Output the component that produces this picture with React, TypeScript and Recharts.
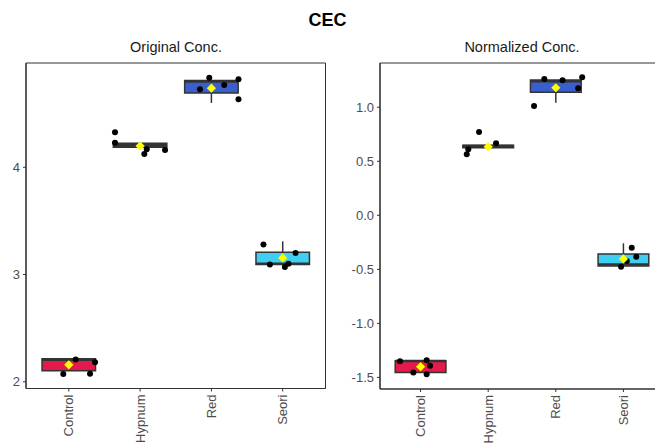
import React from 'react';
import {
  ComposedChart,
  Scatter,
  XAxis,
  YAxis,
  ReferenceArea,
  ReferenceLine,
} from 'recharts';

const CATEGORIES = ['Control', 'Hypnum', 'Red', 'Seori'];
const POSITIONS = [1, 2, 3, 4];
const FILLS = ['#E5194B', '#3d3d3d', '#3A5FCD', '#3ECFF3'];
const BOX_HALF = 0.375;

// Original Conc. box stats
const ORIG_LOWER = [2.102, 4.186, 4.6, 3.093];
const ORIG_Q1 = [2.102, 4.186, 4.693, 3.093];
const ORIG_MEDIAN = [2.205, 4.21, 4.8, 3.1];
const ORIG_Q3 = [2.214, 4.224, 4.81, 3.208];
const ORIG_UPPER = [2.214, 4.224, 4.81, 3.31];
const ORIG_MEAN = [2.158, 4.199, 4.737, 3.155];
// jittered samples
const ORIG_PT_X = [1.097, 1.368, 0.923, 1.298, 1.648, 1.648, 2.093, 2.059, 2.35, 2.97, 3.38, 2.84, 3.18, 3.38, 3.73, 4.18, 3.82, 4.03, 4.08];
const ORIG_PT_Y = [2.207, 2.183, 2.072, 2.074, 4.326, 4.229, 4.168, 4.124, 4.161, 4.835, 4.82, 4.727, 4.767, 4.634, 3.28, 3.2, 3.093, 3.07, 3.1];
const ORIG_TICKS = [2, 3, 4];

// Normalized Conc. box stats
const NORM_LOWER = [-1.455, 0.625, 1.042, -0.469];
const NORM_Q1 = [-1.455, 0.625, 1.138, -0.469];
const NORM_MEDIAN = [-1.348, 0.64, 1.24, -0.455];
const NORM_Q3 = [-1.345, 0.648, 1.252, -0.358];
const NORM_UPPER = [-1.345, 0.648, 1.252, -0.259];
const NORM_MEAN = [-1.4, 0.635, 1.18, -0.404];
const NORM_PT_X = [0.696, 1.09, 1.14, 0.893, 1.09, 1.683, 1.706, 1.865, 2.116, 2.678, 2.83, 3.1, 3.39, 3.33, 4.123, 4.19, 4.05, 3.965];
const NORM_PT_Y = [-1.35, -1.34, -1.392, -1.455, -1.47, 0.564, 0.611, 0.771, 0.666, 1.011, 1.261, 1.249, 1.277, 1.175, -0.3, -0.383, -0.423, -0.475];
const NORM_TICKS = [-1.5, -1, -0.5, 0, 0.5, 1];

const INK = '#333333';
const TICK_TEXT = '#4D4D4D';

function CategoryTick({ x, y, payload }: any) {
  return (
    <text
      transform={`translate(${x},${y}) rotate(-90)`}
      textAnchor="end"
      dy="0.35em"
      fontSize={13}
      fill={TICK_TEXT}
    >
      {CATEGORIES[payload.value - 1]}
    </text>
  );
}

function Dot({ cx, cy }: any) {
  return <circle cx={cx} cy={cy} r={3} fill="#000" />;
}

function Diamond({ cx, cy }: any) {
  const s = 4.6;
  return (
    <polygon
      points={`${cx},${cy - s} ${cx + s},${cy} ${cx},${cy + s} ${cx - s},${cy}`}
      fill="#FFFF00"
    />
  );
}

function Panel(props: any) {
  const { lower, q1, median, q3, upper, mean, ptX, ptY, domain, ticks, fmt, width, yWidth, right, xHeight } = props;

  const means = POSITIONS.map((p, i) => ({ pos: p, val: mean[i] }));
  const points = ptX.map((x: number, i: number) => ({ pos: x, val: ptY[i] }));

  return (
    <ComposedChart width={width} height={444} margin={{ top: 63, right, left: 0, bottom: 0 }}>
      <XAxis
        type="number"
        dataKey="pos"
        domain={[0.4, 4.6]}
        ticks={POSITIONS}
        allowDataOverflow
        interval={0}
        height={xHeight}
        tickSize={3}
        tickMargin={3}
        tick={<CategoryTick />}
        axisLine={{ stroke: INK, strokeWidth: 1.2 }}
        tickLine={{ stroke: INK }}
      />
      <YAxis
        type="number"
        domain={domain}
        ticks={ticks}
        allowDataOverflow
        width={yWidth}
        tickSize={3}
        tickMargin={3}
        tickFormatter={fmt}
        tick={{ fontSize: 13, fill: TICK_TEXT }}
        axisLine={{ stroke: INK, strokeWidth: 1.2 }}
        tickLine={{ stroke: INK }}
      />
      <ReferenceArea x1={0.4} x2={4.6} y1={domain[0]} y2={domain[1]} fill="none" stroke={INK} strokeWidth={1} />
      {/* whiskers */}
      {POSITIONS.map((p, i) =>
        upper[i] > q3[i] ? (
          <ReferenceLine key={`u${i}`} segment={[{ x: p, y: q3[i] }, { x: p, y: upper[i] }]} stroke={INK} strokeWidth={1.5} />
        ) : null
      )}
      {POSITIONS.map((p, i) =>
        lower[i] < q1[i] ? (
          <ReferenceLine key={`l${i}`} segment={[{ x: p, y: lower[i] }, { x: p, y: q1[i] }]} stroke={INK} strokeWidth={1.5} />
        ) : null
      )}
      {/* boxes */}
      {POSITIONS.map((p, i) => (
        <ReferenceArea
          key={`b${i}`}
          x1={p - BOX_HALF}
          x2={p + BOX_HALF}
          y1={q1[i]}
          y2={q3[i]}
          fill={FILLS[i]}
          fillOpacity={1}
          stroke={INK}
          strokeWidth={1.5}
        />
      ))}
      {/* medians */}
      {POSITIONS.map((p, i) => (
        <ReferenceLine
          key={`m${i}`}
          segment={[{ x: p - BOX_HALF, y: median[i] }, { x: p + BOX_HALF, y: median[i] }]}
          stroke={INK}
          strokeWidth={2.6}
        />
      ))}
      <Scatter data={points} dataKey="val" shape={<Dot />} isAnimationActive={false} />
      <Scatter data={means} dataKey="val" shape={<Diamond />} isAnimationActive={false} />
    </ComposedChart>
  );
}

export default function App() {
  return (
    <div
      style={{
        position: 'fixed',
        left: 0,
        top: 0,
        width: 655,
        height: 444,
        overflow: 'hidden',
        background: '#fff',
        fontFamily: '"Liberation Sans", Arial, sans-serif',
      }}
    >
      <div style={{ position: 'absolute', left: 0, top: 9, width: 655, textAlign: 'center', fontSize: 18, fontWeight: 'bold', lineHeight: '22px', color: '#000' }}>
        CEC
      </div>
      <div style={{ position: 'absolute', left: 26, top: 38, width: 300, textAlign: 'center', fontSize: 14.5, lineHeight: '18px', color: '#1a1a1a' }}>
        Original Conc.
      </div>
      <div style={{ position: 'absolute', left: 380, top: 38, width: 284, textAlign: 'center', fontSize: 14.5, lineHeight: '18px', color: '#1a1a1a' }}>
        Normalized Conc.
      </div>
      <div style={{ position: 'absolute', left: 0, top: 0 }}>
        <Panel
          lower={ORIG_LOWER}
          q1={ORIG_Q1}
          median={ORIG_MEDIAN}
          q3={ORIG_Q3}
          upper={ORIG_UPPER}
          mean={ORIG_MEAN}
          ptX={ORIG_PT_X}
          ptY={ORIG_PT_Y}
          domain={[1.9375, 4.972]}
          ticks={ORIG_TICKS}
          fmt={(v: number) => String(v)}
          width={330}
          yWidth={26}
          right={4.5}
          xHeight={55.5}
        />
      </div>
      <div style={{ position: 'absolute', left: 330, top: 0 }}>
        <Panel
          lower={NORM_LOWER}
          q1={NORM_Q1}
          median={NORM_MEDIAN}
          q3={NORM_Q3}
          upper={NORM_UPPER}
          mean={NORM_MEAN}
          ptX={NORM_PT_X}
          ptY={NORM_PT_Y}
          domain={[-1.607, 1.409]}
          ticks={NORM_TICKS}
          fmt={(v: number) => v.toFixed(1)}
          width={340}
          yWidth={50}
          right={6}
          xHeight={55}
        />
      </div>
    </div>
  );
}
